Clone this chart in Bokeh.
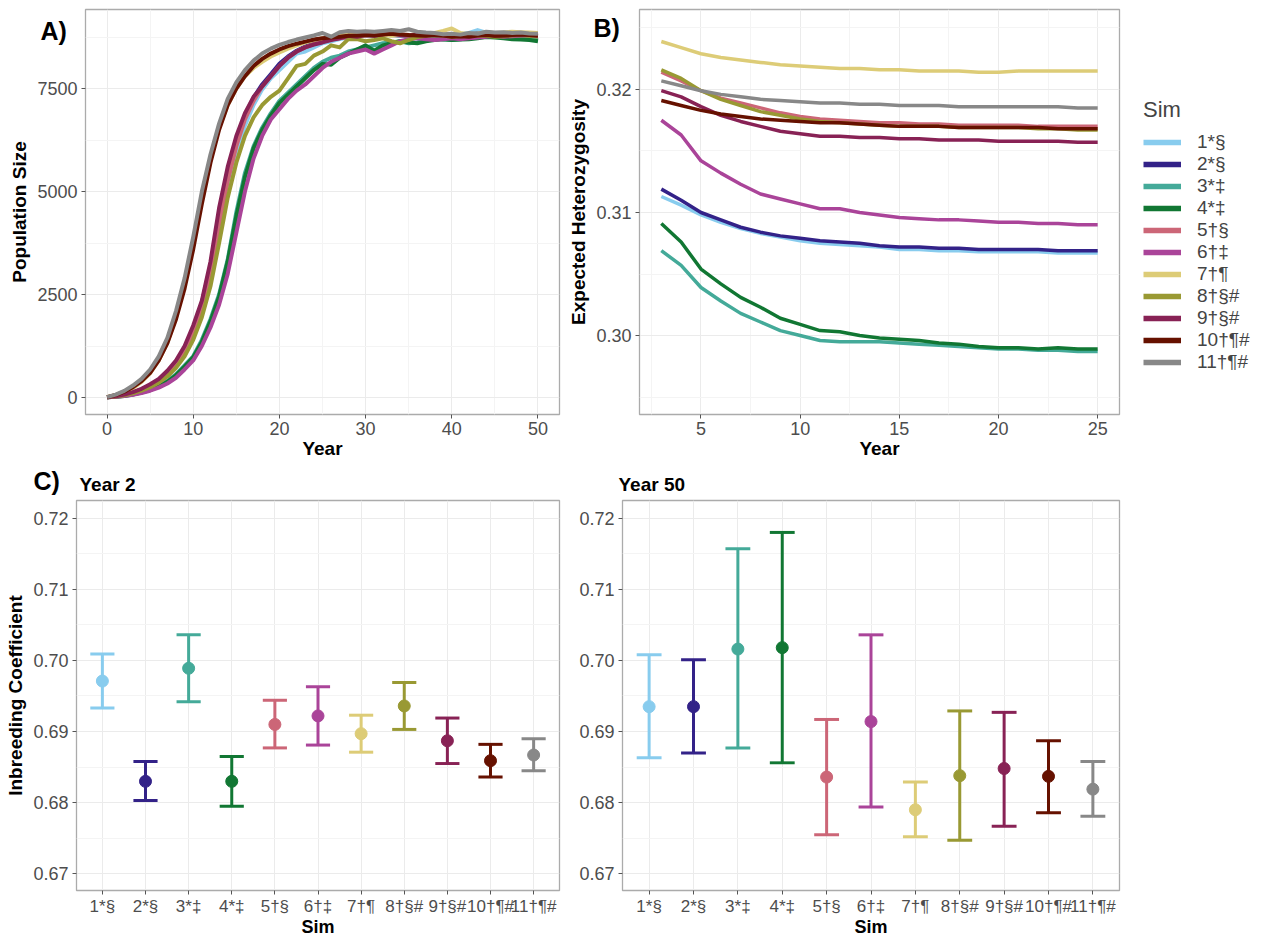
from bokeh.plotting import figure
from bokeh.layouts import row, column
from bokeh.models import (ColumnDataSource, FixedTicker, Legend, LegendItem, Title,
                          FactorRange, Range1d, NumeralTickFormatter)
from bokeh.transform import dodge
from bokeh.embed import file_html
from bokeh.resources import INLINE

FONT = "Liberation Sans"

sims = ["1*§", "2*§", "3*‡", "4*‡", "5†§", "6†‡", "7†¶", "8†§#", "9†§#", "10†¶#", "11†¶#"]
colors = ["#88CCEE", "#332288", "#44AA99", "#117733", "#CC6677", "#AA4499",
          "#DDCC77", "#999933", "#882255", "#661100", "#888888"]

# ---------------- Panel A: population size, years 0..50 ----------------
years_a = list(range(0, 51))
pop_1 = [5, 25, 55, 100, 170, 260, 380, 540, 760, 1060, 1480, 2050, 2850, 3950, 5000, 5900, 6600, 7100, 7480, 7750,
         7950, 8150, 8350, 8400, 8500, 8600, 8650, 8700, 8740, 8760, 8780, 8770, 8790, 8800, 8780, 8770, 8790, 8800,
         8780, 8770, 8800, 8820, 8850, 8920, 8860, 8830, 8810, 8800, 8790, 8780, 8770]
pop_2 = [5, 30, 65, 120, 200, 300, 430, 610, 850, 1200, 1680, 2300, 3200, 4400, 5450, 6250, 6850, 7280, 7600, 7850,
         8100, 8280, 8420, 8520, 8600, 8650, 8700, 8730, 8760, 8790, 8800, 8810, 8820, 8800, 8790, 8780, 8800, 8820,
         8830, 8810, 8800, 8790, 8820, 8840, 8830, 8800, 8790, 8810, 8820, 8800, 8790]
pop_3 = [3, 18, 40, 75, 125, 190, 280, 400, 560, 780, 1000, 1400, 1900, 2500, 3350, 4500, 5450, 6100, 6550, 6900,
         7200, 7400, 7600, 7800, 8000, 8150, 8250, 8300, 8400, 8450, 8500, 8550, 8600, 8620, 8650, 8600, 8620, 8680,
         8720, 8700, 8680, 8700, 8720, 8750, 8800, 8780, 8760, 8750, 8730, 8720, 8680]
pop_4 = [3, 16, 38, 70, 118, 180, 265, 380, 540, 750, 980, 1350, 1850, 2450, 3300, 4400, 5350, 6050, 6500, 6850,
         7150, 7350, 7550, 7750, 7950, 8100, 8080, 8250, 8350, 8450, 8550, 8420, 8550, 8600, 8650, 8620, 8600, 8650,
         8680, 8700, 8680, 8690, 8700, 8720, 8750, 8740, 8720, 8700, 8690, 8680, 8650]
pop_5 = [5, 28, 60, 110, 185, 280, 410, 580, 810, 1130, 1580, 2200, 3050, 4200, 5250, 6100, 6750, 7200, 7550, 7800,
         8050, 8250, 8400, 8500, 8580, 8640, 8690, 8720, 8750, 8780, 8790, 8800, 8790, 8810, 8800, 8790, 8780, 8800,
         8790, 8800, 8780, 8790, 8800, 8810, 8790, 8800, 8780, 8790, 8800, 8790, 8780]
pop_6 = [3, 15, 35, 65, 110, 165, 240, 340, 480, 680, 900, 1250, 1700, 2250, 3000, 4000, 5000, 5800, 6350, 6750,
         7000, 7250, 7450, 7600, 7800, 8000, 8150, 8250, 8350, 8400, 8450, 8350, 8450, 8550, 8650, 8700, 8720, 8700,
         8680, 8700, 8720, 8700, 8720, 8740, 8760, 8780, 8760, 8770, 8790, 8800, 8780]
pop_7 = [10, 55, 130, 230, 380, 590, 900, 1330, 1950, 2750, 3750, 4850, 5800, 6550, 7100, 7500, 7800, 8000, 8150, 8280,
         8380, 8470, 8550, 8620, 8680, 8720, 8760, 8800, 8830, 8800, 8790, 8820, 8800, 8780, 8800, 8790, 8830, 8820,
         8850, 8900, 8960, 8850, 8820, 8840, 8870, 8850, 8860, 8880, 8870, 8860, 8850]
pop_8 = [5, 25, 55, 100, 165, 250, 360, 510, 720, 1000, 1400, 1950, 2700, 3750, 4850, 5700, 6350, 6800, 7100, 7300,
         7450, 7750, 8050, 8100, 8300, 8400, 8550, 8500, 8700, 8700, 8650, 8680, 8720, 8650, 8600, 8680, 8750, 8780,
         8800, 8780, 8760, 8770, 8800, 8790, 8780, 8760, 8770, 8790, 8800, 8780, 8760]
pop_9 = [5, 30, 70, 130, 210, 320, 450, 650, 900, 1250, 1750, 2350, 3300, 4600, 5600, 6350, 6900, 7300, 7550, 7800,
         8050, 8250, 8400, 8500, 8570, 8620, 8680, 8720, 8780, 8760, 8800, 8780, 8820, 8830, 8800, 8790, 8810, 8830,
         8800, 8790, 8780, 8770, 8790, 8800, 8820, 8780, 8790, 8800, 8810, 8800, 8780]
pop_10 = [10, 60, 140, 250, 400, 600, 900, 1320, 1900, 2650, 3600, 4700, 5700, 6500, 7100, 7500, 7800, 8050, 8220,
          8350, 8450, 8530, 8590, 8640, 8690, 8720, 8740, 8760, 8780, 8790, 8800, 8790, 8810, 8830, 8820, 8800, 8790,
          8780, 8800, 8790, 8760, 8770, 8760, 8790, 8800, 8780, 8790, 8800, 8810, 8800, 8790]
pop_11 = [10, 70, 160, 290, 450, 680, 1000, 1450, 2100, 2900, 3900, 5000, 5900, 6650, 7250, 7650, 7950, 8180, 8350,
          8470, 8560, 8630, 8690, 8740, 8790, 8850, 8760, 8870, 8900, 8880, 8890, 8880, 8900, 8920, 8900, 8940, 8880,
          8860, 8850, 8820, 8830, 8810, 8850, 8830, 8880, 8860, 8870, 8850, 8860, 8840, 8830]
pop_series = [pop_1, pop_2, pop_3, pop_4, pop_5, pop_6, pop_7, pop_8, pop_9, pop_10, pop_11]

# ---------------- Panel B: expected heterozygosity, years 3..25 ----------------
years_b = list(range(3, 26))
het_1 = [0.3113, 0.3106, 0.3098, 0.3092, 0.3087, 0.3083, 0.3080, 0.3077, 0.3075, 0.3074, 0.3073, 0.3072, 0.3070,
         0.3070, 0.3069, 0.3069, 0.3068, 0.3068, 0.3068, 0.3068, 0.3067, 0.3067, 0.3067]
het_2 = [0.3119, 0.3110, 0.3100, 0.3094, 0.3088, 0.3084, 0.3081, 0.3079, 0.3077, 0.3076, 0.3075, 0.3073, 0.3072,
         0.3072, 0.3071, 0.3071, 0.3070, 0.3070, 0.3070, 0.3070, 0.3069, 0.3069, 0.3069]
het_3 = [0.3069, 0.3057, 0.3039, 0.3028, 0.3018, 0.3011, 0.3004, 0.3000, 0.2996, 0.2995, 0.2995, 0.2995, 0.2994,
         0.2993, 0.2992, 0.2991, 0.2990, 0.2989, 0.2989, 0.2988, 0.2988, 0.2987, 0.2987]
het_4 = [0.3091, 0.3076, 0.3054, 0.3042, 0.3031, 0.3023, 0.3014, 0.3009, 0.3004, 0.3003, 0.3000, 0.2998, 0.2997,
         0.2996, 0.2994, 0.2993, 0.2991, 0.2990, 0.2990, 0.2989, 0.2990, 0.2989, 0.2989]
het_5 = [0.3214, 0.3207, 0.3199, 0.3193, 0.3189, 0.3185, 0.3181, 0.3178, 0.3176, 0.3175, 0.3174, 0.3173, 0.3173,
         0.3172, 0.3172, 0.3171, 0.3171, 0.3171, 0.3171, 0.3170, 0.3170, 0.3170, 0.3170]
het_6 = [0.3175, 0.3163, 0.3142, 0.3132, 0.3123, 0.3115, 0.3111, 0.3107, 0.3103, 0.3103, 0.3100, 0.3098, 0.3096,
         0.3095, 0.3094, 0.3094, 0.3093, 0.3092, 0.3092, 0.3091, 0.3091, 0.3090, 0.3090]
het_7 = [0.3239, 0.3234, 0.3229, 0.3226, 0.3224, 0.3222, 0.3220, 0.3219, 0.3218, 0.3217, 0.3217, 0.3216, 0.3216,
         0.3215, 0.3215, 0.3215, 0.3214, 0.3214, 0.3215, 0.3215, 0.3215, 0.3215, 0.3215]
het_8 = [0.3216, 0.3209, 0.3199, 0.3192, 0.3187, 0.3182, 0.3179, 0.3176, 0.3174, 0.3173, 0.3172, 0.3171, 0.3170,
         0.3170, 0.3170, 0.3169, 0.3169, 0.3169, 0.3169, 0.3168, 0.3168, 0.3167, 0.3167]
het_9 = [0.3199, 0.3194, 0.3186, 0.3179, 0.3174, 0.3170, 0.3166, 0.3164, 0.3162, 0.3162, 0.3161, 0.3161, 0.3160,
         0.3160, 0.3159, 0.3159, 0.3159, 0.3158, 0.3158, 0.3158, 0.3158, 0.3157, 0.3157]
het_10 = [0.3191, 0.3187, 0.3183, 0.3180, 0.3178, 0.3176, 0.3175, 0.3174, 0.3173, 0.3173, 0.3172, 0.3171, 0.3170,
          0.3170, 0.3170, 0.3169, 0.3169, 0.3169, 0.3169, 0.3169, 0.3168, 0.3168, 0.3168]
het_11 = [0.3207, 0.3203, 0.3199, 0.3196, 0.3194, 0.3192, 0.3191, 0.3190, 0.3189, 0.3189, 0.3188, 0.3188, 0.3187,
          0.3187, 0.3187, 0.3186, 0.3186, 0.3186, 0.3186, 0.3186, 0.3186, 0.3185, 0.3185]
het_series = [het_1, het_2, het_3, het_4, het_5, het_6, het_7, het_8, het_9, het_10, het_11]

# ---------------- Panel C: inbreeding coefficient ----------------
y2_mean = [0.6971, 0.6830, 0.6989, 0.6830, 0.6910, 0.6922, 0.6897, 0.6936, 0.6887, 0.6859, 0.6867]
y2_lower = [0.6933, 0.6803, 0.6942, 0.6795, 0.6877, 0.6881, 0.6871, 0.6903, 0.6855, 0.6836, 0.6845]
y2_upper = [0.7009, 0.6858, 0.7036, 0.6865, 0.6944, 0.6963, 0.6923, 0.6969, 0.6919, 0.6882, 0.6890]
y50_mean = [0.6935, 0.6935, 0.7016, 0.7018, 0.6836, 0.6914, 0.6790, 0.6838, 0.6848, 0.6837, 0.6819]
y50_lower = [0.6863, 0.6870, 0.6877, 0.6856, 0.6755, 0.6794, 0.6752, 0.6747, 0.6767, 0.6786, 0.6781]
y50_upper = [0.7008, 0.7001, 0.7157, 0.7180, 0.6917, 0.7036, 0.6829, 0.6929, 0.6927, 0.6887, 0.6858]

BORDER = "#ABABAB"
GRID = "#EBEBEB"
MINOR = "#F4F4F4"


def style(p, xlabel=None, ylabel=None):
    p.outline_line_color = BORDER
    p.outline_line_width = 1.3
    p.background_fill_color = "white"
    p.border_fill_color = "white"
    for ax in p.axis:
        ax.axis_line_color = None
        ax.major_tick_line_color = "#555555"
        ax.major_tick_line_width = 1
        ax.major_tick_out = 4
        ax.major_tick_in = 0
        ax.minor_tick_line_color = None
        ax.major_label_text_font = FONT
        ax.major_label_text_font_size = "18px"
        ax.major_label_text_color = "#4D4D4D"
        ax.major_label_standoff = 4
        ax.axis_label_text_font = FONT
        ax.axis_label_text_font_size = "19px"
        ax.axis_label_text_font_style = "bold"
        ax.axis_label_text_color = "black"
        ax.axis_label_standoff = 4
    p.xaxis.axis_label = xlabel
    p.yaxis.axis_label = ylabel
    p.xaxis.major_label_standoff = 3
    p.xaxis.axis_label_standoff = 0
    p.xgrid.grid_line_color = GRID
    p.ygrid.grid_line_color = GRID
    p.xgrid.minor_grid_line_color = MINOR
    p.ygrid.minor_grid_line_color = MINOR


def tag_title(text, offset, standoff):
    # panel tag drawn from the title slot, pulled down beside the frame
    return Title(text=text, text_font=FONT, text_font_size="25px", text_font_style="bold",
                 text_color="black", align="left", vertical_align="bottom",
                 offset=offset, standoff=standoff)


# ---- Panel A ----
pA = figure(frame_width=474, frame_height=405, min_border_left=85, min_border_right=5,
            min_border_top=9, min_border_bottom=49,
            x_range=Range1d(-2.5, 52.5), y_range=Range1d(-413, 9420),
            output_backend="svg", toolbar_location=None)
for ys, c in zip(pop_series, colors):
    pA.line(years_a, ys, line_color=c, line_width=4, line_join="round")
style(pA, "Year", "Population Size")
pA.xaxis.ticker = FixedTicker(ticks=[0, 10, 20, 30, 40, 50], minor_ticks=[5, 15, 25, 35, 45])
pA.yaxis.ticker = FixedTicker(ticks=[0, 2500, 5000, 7500], minor_ticks=[1250, 3750, 6250, 8750])
pA.yaxis.formatter = NumeralTickFormatter(format="0")
pA.title = tag_title("A)", -45, -70)

# ---- Panel B ----
pB = figure(frame_width=480, frame_height=405, min_border_left=75, min_border_right=152,
            min_border_top=9, min_border_bottom=49,
            x_range=Range1d(1.9, 26.1), y_range=Range1d(0.29358, 0.32650),
            output_backend="svg", toolbar_location=None)
for ys, c in zip(het_series, colors):
    pB.line(years_b, ys, line_color=c, line_width=3.5, line_join="round")
style(pB, "Year", "Expected Heterozygosity")
pB.xaxis.ticker = FixedTicker(ticks=[5, 10, 15, 20, 25], minor_ticks=[2.5, 7.5, 12.5, 17.5, 22.5])
pB.yaxis.ticker = FixedTicker(ticks=[0.30, 0.31, 0.32], minor_ticks=[0.295, 0.305, 0.315, 0.325])
pB.yaxis.formatter = NumeralTickFormatter(format="0.00")
pB.title = tag_title("B)", -46, -64)

# legend keys: one-point lines (draw nothing in the frame) carrying the thick key style
items = []
for s, c, ys in zip(sims, colors, het_series):
    r = pB.line(x=years_b[:1], y=ys[:1], line_color=c, line_width=5.5)
    items.append(LegendItem(label=s, renderers=[r]))
legend = Legend(items=items, location=(24, 41), title="Sim",
                title_text_font=FONT, title_text_font_size="22px", title_text_font_style="normal",
                title_standoff=8,
                label_text_font=FONT, label_text_font_size="19px", label_standoff=16,
                glyph_width=38, glyph_height=18, label_height=18, spacing=0,
                padding=0, margin=0, border_line_color=None, background_fill_alpha=0)
pB.add_layout(legend, "right")


# ---- Panel C ----
def make_c(mean, lower, upper, left, fw, ylabel):
    p = figure(frame_width=fw, frame_height=390, min_border_left=left, min_border_right=5,
               min_border_top=37, min_border_bottom=46,
               x_range=FactorRange(*sims, range_padding=0.1, range_padding_units="absolute"),
               y_range=Range1d(0.66765, 0.72249),
               output_backend="svg", toolbar_location=None)
    src = ColumnDataSource(dict(sim=sims, mean=mean, lower=lower, upper=upper, color=colors))
    p.segment(x0="sim", x1="sim", y0="lower", y1="upper", line_color="color", line_width=3, source=src)
    p.segment(x0=dodge("sim", -0.28, range=p.x_range), x1=dodge("sim", 0.28, range=p.x_range),
              y0="upper", y1="upper", line_color="color", line_width=3, source=src)
    p.segment(x0=dodge("sim", -0.28, range=p.x_range), x1=dodge("sim", 0.28, range=p.x_range),
              y0="lower", y1="lower", line_color="color", line_width=3, source=src)
    p.scatter(x="sim", y="mean", size=12, fill_color="color", line_color="color", source=src)
    style(p, "Sim", ylabel)
    p.yaxis.ticker = FixedTicker(ticks=[0.67, 0.68, 0.69, 0.70, 0.71, 0.72],
                                 minor_ticks=[0.675, 0.685, 0.695, 0.705, 0.715])
    p.yaxis.formatter = NumeralTickFormatter(format="0.00")
    p.xaxis.major_label_text_font_size = "17px"
    p.xaxis.major_label_standoff = 2
    p.xaxis.axis_label_text_font_size = "18px"
    p.xaxis.axis_label_standoff = -2
    return p


def sub_title(text, offset):
    return Title(text=text, text_font=FONT, text_font_size="19px", text_font_style="bold",
                 text_color="black", align="left", vertical_align="bottom",
                 offset=offset, standoff=12)


pC1 = make_c(y2_mean, y2_lower, y2_upper, 76, 483, "Inbreeding Coefficient")
pC1.add_layout(sub_title("Year 2", 3), "above")
pC1.title = tag_title("C)", -43, -58)

pC2 = make_c(y50_mean, y50_lower, y50_upper, 58, 497, None)
pC2.title = sub_title("Year 50", -4)

layout = column(row(pA, pB), row(pC1, pC2))
open("out.html", "w").write(file_html(layout, INLINE))
